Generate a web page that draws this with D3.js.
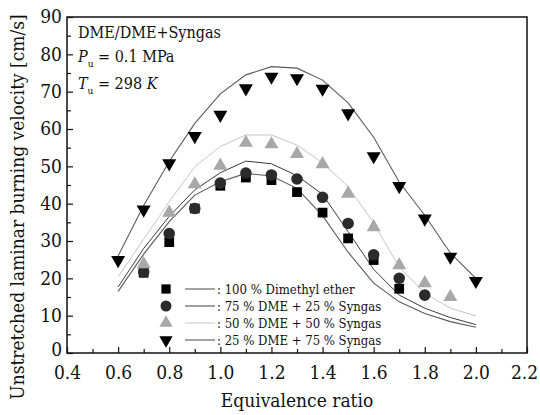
<!DOCTYPE html>
<html lang="en">
<head>
  <meta charset="UTF-8" />
  <title>Laminar burning velocity</title>
  <script src="https://d3js.org/d3.v7.min.js"></script>
  <style>
    body { margin: 0; background: #fff; }
    svg text { font-family: "DejaVu Serif Condensed", "DejaVu Serif", serif; font-stretch: condensed; fill: #111; }
  </style>
</head>
<body>
  <svg width="540" height="415"></svg>
  <script>
    // measured points
    const phiExp100 = [0.7, 0.8, 0.9, 1.0, 1.1, 1.2, 1.3, 1.4, 1.5, 1.6, 1.7];
    const sl100 = [21.5, 29.7, 38.7, 44.8, 47.0, 46.3, 43.1, 37.6, 30.7, 24.9, 17.2];
    const phiExp75 = [0.7, 0.8, 0.9, 1.0, 1.1, 1.2, 1.3, 1.4, 1.5, 1.6, 1.7, 1.8];
    const sl75 = [21.7, 32.0, 38.7, 45.5, 48.2, 47.7, 46.6, 41.7, 34.7, 26.3, 20.0, 15.5];
    const phiExp50 = [0.7, 0.8, 0.9, 1.0, 1.1, 1.2, 1.3, 1.4, 1.5, 1.6, 1.7, 1.8, 1.9];
    const sl50 = [23.8, 37.6, 45.2, 50.2, 56.3, 55.9, 53.3, 50.6, 42.7, 33.7, 23.5, 18.7, 15.0];
    const phiExp25 = [0.6, 0.7, 0.8, 0.9, 1.0, 1.1, 1.2, 1.3, 1.4, 1.5, 1.6, 1.7, 1.8, 1.9, 2.0];
    const sl25 = [24.9, 38.4, 50.8, 58.1, 63.8, 70.9, 74.0, 73.6, 70.8, 64.2, 52.7, 44.7, 36.0, 25.8, 19.3];

    // computed curves
    const phiSim = [0.6, 0.7, 0.8, 0.9, 1.0, 1.1, 1.2, 1.3, 1.4, 1.5, 1.6, 1.7, 1.8, 1.9, 2.0];
    const sim100 = [16.5, 26.5, 35.2, 42.3, 45.9, 48.1, 47.4, 44.1, 36.8, 27.0, 18.7, 13.7, 10.6, 8.4, 6.9];
    const sim75 = [17.7, 28.0, 36.6, 43.7, 48.3, 51.4, 50.7, 47.5, 42.5, 32.5, 22.4, 15.5, 12.0, 9.5, 7.6];
    const sim50 = [20.4, 30.5, 40.5, 49.9, 55.3, 58.4, 58.4, 55.7, 50.9, 44.6, 34.8, 23.0, 16.0, 12.0, 9.9];
    const sim25 = [26.0, 39.5, 51.3, 61.5, 69.4, 74.5, 76.7, 76.3, 73.1, 67.0, 57.8, 45.8, 36.9, 26.8, 20.0];

    const xTicks = [0.4, 0.6, 0.8, 1.0, 1.2, 1.4, 1.6, 1.8, 2.0, 2.2];
    const yTicks = [0, 10, 20, 30, 40, 50, 60, 70, 80, 90];
    const legendLabels = [": 100 % Dimethyl ether", ": 75 % DME + 25 % Syngas",
      ": 50 % DME + 50 % Syngas", ": 25 % DME + 75 % Syngas"];

    const svg = d3.select("svg");
    const plotL = 67, plotR = 527, plotT = 17, plotB = 353;

    const x = d3.scaleLinear().domain([0.4, 2.2]).range([plotL, plotR]);
    const y = d3.scaleLinear().domain([0, 90]).range([plotB, plotT]);

    const series = [
      { px: phiExp100, py: sl100, sim: sim100, sym: d3.symbolSquare, size: 95, fill: "#000", line: "#5a5a5a", lw: 1.1 },
      { px: phiExp75, py: sl75, sim: sim75, sym: d3.symbolCircle, size: 105, fill: "#2b2b2b", line: "#3c3c3c", lw: 1 },
      { px: phiExp50, py: sl50, sim: sim50, sym: d3.symbolTriangle, size: 85, fill: "#a8a8a8", line: "#c6c6c6", lw: 1 },
      { px: phiExp25, py: sl25, sim: sim25, sym: d3.symbolTriangle, size: 85, fill: "#000", line: "#5a5a5a", lw: 1.1, flip: true }
    ];

    const line = d3.line().x(d => x(d[0])).y(d => y(d[1]));

    // curves
    series.forEach(s => {
      svg.append("path")
        .attr("d", line(phiSim.map((p, i) => [p, s.sim[i]])))
        .attr("fill", "none")
        .attr("stroke", s.line)
        .attr("stroke-width", s.lw);
    });

    // markers
    series.forEach(s => {
      svg.append("g").selectAll("path")
        .data(s.px.map((p, i) => [p, s.py[i]]))
        .join("path")
        .attr("d", d3.symbol(s.sym, s.size))
        .attr("transform", d => `translate(${x(d[0])},${y(d[1])})` + (s.flip ? " rotate(180)" : ""))
        .attr("fill", s.fill);
    });

    // axes, ticks inside
    const xAxis = d3.axisBottom(x).tickValues(d3.range(4, 23).map(v => v / 10))
      .tickSize(-6).tickFormat(d => xTicks.some(t => Math.abs(t - d) < 1e-6) ? d3.format(".1f")(d) : "");
    const gx = svg.append("g").attr("transform", `translate(0,${plotB})`).call(xAxis);
    gx.selectAll(".tick line").attr("y2", (d, i) => i % 2 === 0 ? -6 : -4);

    const yAxis = d3.axisLeft(y).tickValues(d3.range(0, 91, 5))
      .tickSize(-6).tickFormat(d => yTicks.includes(d) ? d : "");
    const gy = svg.append("g").attr("transform", `translate(${plotL},0)`).call(yAxis);
    gy.selectAll(".tick line").attr("x2", (d, i) => i % 2 === 0 ? 6 : 4);

    [gx, gy].forEach(g => {
      g.attr("font-family", null);
      g.select(".domain").remove();
      g.selectAll(".tick line").attr("stroke", "#111").attr("stroke-width", 1.2);
      g.selectAll(".tick text").attr("font-size", 19).attr("fill", "#111");
    });
    gx.selectAll(".tick text").attr("y", 13)
      .attr("dx", d => Math.abs(d - 2.2) < 1e-6 ? -3 : 0);
    gy.selectAll(".tick text").attr("x", -5)
      .attr("dy", d => d === 0 ? "0.15em" : "0.3em");

    svg.append("rect")
      .attr("x", plotL).attr("y", plotT)
      .attr("width", plotR - plotL).attr("height", plotB - plotT)
      .attr("fill", "none").attr("stroke", "#111").attr("stroke-width", 1.5);

    // axis titles
    svg.append("text")
      .attr("x", 297).attr("y", 407)
      .attr("text-anchor", "middle").attr("font-size", 19)
      .text("Equivalence ratio");
    svg.append("text")
      .attr("transform", `translate(24,207) rotate(-90)`)
      .attr("text-anchor", "middle").attr("font-size", 19)
      .text("Unstretched laminar burning velocity [cm/s]");

    // conditions
    const note = svg.append("g").attr("font-size", 16);
    note.append("text").attr("x", 78).attr("y", 38).text("DME/DME+Syngas");
    const pu = note.append("text").attr("x", 78).attr("y", 62);
    pu.append("tspan").attr("font-style", "italic").text("P");
    pu.append("tspan").attr("font-size", 10).attr("dy", 5).text("u");
    pu.append("tspan").attr("dy", -5).text(" = 0.1 MPa");
    const tu = note.append("text").attr("x", 78).attr("y", 89);
    tu.append("tspan").attr("font-style", "italic").text("T");
    tu.append("tspan").attr("font-size", 10).attr("dy", 5).text("u");
    tu.append("tspan").attr("dy", -5).text(" = 298 ");
    tu.append("tspan").attr("font-style", "italic").text("K");

    // legend
    const leg = svg.append("g");
    series.forEach((s, i) => {
      const ly = 289 + i * 17;
      leg.append("path")
        .attr("d", d3.symbol(s.sym, s.size * 0.9))
        .attr("transform", `translate(166,${ly})` + (s.flip ? " rotate(180)" : ""))
        .attr("fill", s.fill);
      leg.append("line")
        .attr("x1", 185).attr("x2", 215).attr("y1", ly).attr("y2", ly)
        .attr("stroke", s.line).attr("stroke-width", s.lw);
      leg.append("text")
        .attr("x", 217).attr("y", ly + 5)
        .attr("font-size", 13)
        .text(legendLabels[i]);
    });
  </script>
</body>
</html>
